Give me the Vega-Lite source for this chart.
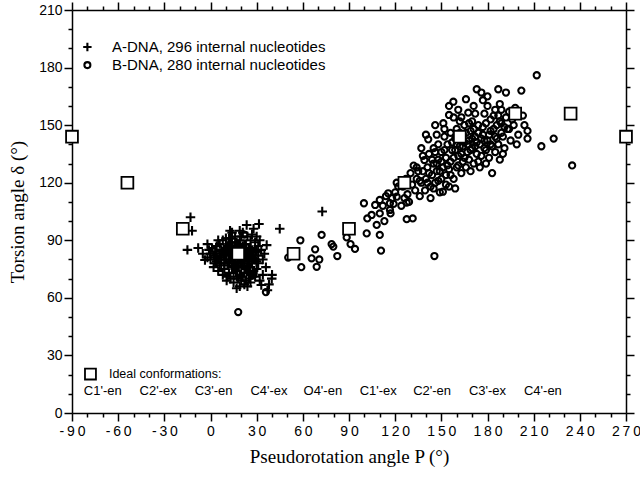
{
  "$schema": "https://vega.github.io/schema/vega-lite/v6.json",
  "width": 554,
  "height": 403,
  "autosize": "none",
  "padding": {"left": 72, "top": 10, "right": 14, "bottom": 67},
  "background": "white",
  "config": {
    "view": {"stroke": null},
    "axis": {
      "domainColor": "black",
      "domainWidth": 1.5,
      "tickColor": "black",
      "tickWidth": 1.5,
      "grid": false,
      "labelFont": "Liberation Sans",
      "labelFontSize": 14,
      "labelColor": "black",
      "titleFont": "Liberation Serif",
      "titleFontSize": 19,
      "titleFontWeight": "normal",
      "titleColor": "black"
    }
  },
  "datasets": {
    "adna": [
      {"p": -13, "d": 102}, {"p": -15, "d": 85}, {"p": -12, "d": 95}, {"p": 45, "d": 96}, {"p": 72.6, "d": 105},
      {"p": 39.8, "d": 70}, {"p": 33, "d": 66.7}, {"p": 37, "d": 64}, {"p": 40, "d": 72}, {"p": 36.5, "d": 87.5},
      {"p": 31.5, "d": 98.5}, {"p": 23.5, "d": 98}, {"p": 12.7, "d": 95}, {"p": -5, "d": 83}, {"p": -3.6, "d": 79.7},
      {"p": 17, "d": 65}, {"p": 10.5, "d": 69}, {"p": 28, "d": 96}, {"p": 20, "d": 92}, {"p": -8, "d": 86},
      {"p": -2, "d": 88}, {"p": 5, "d": 90}, {"p": 3, "d": 84}, {"p": 32, "d": 90}, {"p": 34, "d": 80},
      {"p": 30, "d": 75}, {"p": 25, "d": 70}, {"p": 22, "d": 67}, {"p": 15, "d": 68}, {"p": 8, "d": 72},
      {"p": 2, "d": 76}, {"p": 0, "d": 80}, {"p": -1, "d": 85}, {"p": 4, "d": 87}, {"p": 6, "d": 82},
      {"p": 7, "d": 78}, {"p": 9, "d": 75}, {"p": 10, "d": 80}, {"p": 11, "d": 84}, {"p": 12, "d": 88},
      {"p": 13, "d": 91}, {"p": 14, "d": 86}, {"p": 15, "d": 82}, {"p": 16, "d": 78}, {"p": 17, "d": 74},
      {"p": 18, "d": 70}, {"p": 19, "d": 72}, {"p": 20, "d": 76}, {"p": 21, "d": 80}, {"p": 22, "d": 84},
      {"p": 23, "d": 88}, {"p": 24, "d": 92}, {"p": 25, "d": 86}, {"p": 26, "d": 82}, {"p": 27, "d": 78},
      {"p": 28, "d": 74}, {"p": 29, "d": 80}, {"p": 30, "d": 84}, {"p": 31, "d": 87}, {"p": 26, "d": 90},
      {"p": 24, "d": 76}, {"p": 22, "d": 73}, {"p": 20, "d": 69}, {"p": 18, "d": 88}, {"p": 16, "d": 92},
      {"p": 14, "d": 76}, {"p": 12, "d": 73}, {"p": 10, "d": 86}, {"p": 8, "d": 90}, {"p": 6, "d": 88},
      {"p": 4, "d": 79}, {"p": 2, "d": 82}, {"p": 13, "d": 80}, {"p": 15, "d": 85}, {"p": 17, "d": 83},
      {"p": 19, "d": 86}, {"p": 21, "d": 77}, {"p": 23, "d": 81}, {"p": 25, "d": 79}, {"p": 27, "d": 85},
      {"p": 29, "d": 89}, {"p": 11, "d": 77}, {"p": 9, "d": 82}, {"p": 7, "d": 85}, {"p": 5, "d": 74},
      {"p": 3, "d": 78}, {"p": 1, "d": 86}, {"p": 14, "d": 94}, {"p": 19, "d": 95}, {"p": 27, "d": 93},
      {"p": 33, "d": 85}, {"p": 35, "d": 83}, {"p": 31, "d": 78}, {"p": 29, "d": 71}, {"p": 26, "d": 68},
      {"p": 24, "d": 66}, {"p": 19, "d": 66}, {"p": 13, "d": 70}, {"p": 11, "d": 71}, {"p": 6, "d": 77},
      {"p": 0, "d": 83}, {"p": -2, "d": 81}, {"p": 16, "d": 87}, {"p": 18, "d": 79}, {"p": 20, "d": 82},
      {"p": 22, "d": 78}, {"p": 24, "d": 83}, {"p": 26, "d": 76}, {"p": 28, "d": 84}, {"p": 17, "d": 89},
      {"p": 21, "d": 87}, {"p": 23, "d": 75}, {"p": 15, "d": 73}, {"p": 9, "d": 78}, {"p": 12, "d": 83},
      {"p": 30, "d": 92}, {"p": 8, "d": 84}, {"p": 5, "d": 80}, {"p": 3, "d": 81}, {"p": 36, "d": 76},
      {"p": 38, "d": 67}, {"p": 34, "d": 72}, {"p": 32, "d": 69},
      {"p": 10, "d": 83}, {"p": 12, "d": 79}, {"p": 14, "d": 81}, {"p": 16, "d": 84}, {"p": 18, "d": 82},
      {"p": 20, "d": 86}, {"p": 22, "d": 81}, {"p": 24, "d": 79}, {"p": 26, "d": 86}, {"p": 28, "d": 80},
      {"p": 11, "d": 87}, {"p": 13, "d": 84}, {"p": 15, "d": 78}, {"p": 17, "d": 77}, {"p": 19, "d": 80},
      {"p": 21, "d": 84}, {"p": 23, "d": 85}, {"p": 25, "d": 83}, {"p": 27, "d": 81}, {"p": 9, "d": 80},
      {"p": 7, "d": 81}, {"p": 16, "d": 75}, {"p": 18, "d": 76}, {"p": 20, "d": 79}, {"p": 22, "d": 88},
      {"p": 14, "d": 89}, {"p": 12, "d": 91}, {"p": 25, "d": 74}, {"p": 27, "d": 72}, {"p": 21, "d": 71},
      {"p": 17, "d": 71}, {"p": 23, "d": 69}, {"p": 19, "d": 90}, {"p": 29, "d": 84}, {"p": 31, "d": 82},
      {"p": 10, "d": 91}, {"p": 21, "d": 94}, {"p": 26, "d": 72}, {"p": 30, "d": 79}, {"p": 4, "d": 83}
    ],
    "bdna": [
      {"p": 18, "d": 52.6}, {"p": 36, "d": 63}, {"p": 22, "d": 93}, {"p": 28, "d": 72}, {"p": 145.5, "d": 81.8},
      {"p": 50.5, "d": 81}, {"p": 59, "d": 76}, {"p": 58.4, "d": 90}, {"p": 68, "d": 85.3}, {"p": 69, "d": 76.2},
      {"p": 70.7, "d": 80}, {"p": 72.2, "d": 92.8}, {"p": 65.7, "d": 80.6}, {"p": 78.7, "d": 88}, {"p": 79.8, "d": 86.7},
      {"p": 82.4, "d": 81.8}, {"p": 88.5, "d": 91.5}, {"p": 91, "d": 88}, {"p": 93.9, "d": 85.5}, {"p": 101.5, "d": 93.6},
      {"p": 101.9, "d": 101.4}, {"p": 110, "d": 92.8}, {"p": 110.8, "d": 84.6}, {"p": 99.7, "d": 109.3}, {"p": 104.7, "d": 103.2},
      {"p": 108, "d": 98}, {"p": 107, "d": 108.4}, {"p": 110, "d": 111}, {"p": 115.5, "d": 114.5}, {"p": 116.6, "d": 109.3},
      {"p": 116.6, "d": 105.8}, {"p": 121, "d": 112.7}, {"p": 127.5, "d": 101}, {"p": 131.4, "d": 101.4}, {"p": 127.5, "d": 109.6},
      {"p": 112, "d": 108}, {"p": 114, "d": 113}, {"p": 118, "d": 112}, {"p": 120, "d": 115}, {"p": 122, "d": 118},
      {"p": 119, "d": 109}, {"p": 117, "d": 104}, {"p": 113, "d": 100}, {"p": 110, "d": 104}, {"p": 121, "d": 120},
      {"p": 125, "d": 118}, {"p": 127, "d": 122}, {"p": 128, "d": 114}, {"p": 130, "d": 125}, {"p": 131, "d": 119},
      {"p": 132, "d": 128.9}, {"p": 133, "d": 116}, {"p": 134, "d": 122}, {"p": 135, "d": 126}, {"p": 129, "d": 110},
      {"p": 126, "d": 112}, {"p": 124, "d": 108},
      {"p": 136, "d": 113}, {"p": 137, "d": 120}, {"p": 138, "d": 126}, {"p": 139, "d": 131.8}, {"p": 139.4, "d": 116},
      {"p": 140, "d": 122}, {"p": 141, "d": 128}, {"p": 141.5, "d": 142.6}, {"p": 142, "d": 135}, {"p": 143, "d": 118},
      {"p": 144, "d": 124}, {"p": 145, "d": 130}, {"p": 145, "d": 138}, {"p": 143, "d": 112}, {"p": 138, "d": 134},
      {"p": 140, "d": 145},
      {"p": 146, "d": 120}, {"p": 147, "d": 126}, {"p": 148, "d": 132}, {"p": 148, "d": 140}, {"p": 149, "d": 115},
      {"p": 150, "d": 122}, {"p": 150, "d": 136}, {"p": 151, "d": 128}, {"p": 151.3, "d": 151}, {"p": 151, "d": 115.3},
      {"p": 152, "d": 144}, {"p": 153, "d": 124}, {"p": 153, "d": 133}, {"p": 154, "d": 140}, {"p": 155, "d": 155.3},
      {"p": 155, "d": 118}, {"p": 155, "d": 127}, {"p": 152, "d": 148}, {"p": 147, "d": 145},
      {"p": 156, "d": 131}, {"p": 157, "d": 137}, {"p": 157.8, "d": 162.2}, {"p": 158, "d": 122}, {"p": 159, "d": 117},
      {"p": 159, "d": 143}, {"p": 160, "d": 128}, {"p": 160, "d": 148}, {"p": 161, "d": 134}, {"p": 162, "d": 139},
      {"p": 162, "d": 152}, {"p": 163, "d": 154.1}, {"p": 163, "d": 125}, {"p": 164, "d": 131}, {"p": 164, "d": 145},
      {"p": 165, "d": 141}, {"p": 165, "d": 150}, {"p": 161, "d": 158}, {"p": 158, "d": 154}, {"p": 156, "d": 146},
      {"p": 166, "d": 163.5}, {"p": 166, "d": 128}, {"p": 167, "d": 136}, {"p": 167.5, "d": 156.5}, {"p": 168, "d": 142},
      {"p": 168, "d": 132}, {"p": 169, "d": 147}, {"p": 170, "d": 138}, {"p": 170, "d": 152}, {"p": 171, "d": 160},
      {"p": 171, "d": 130}, {"p": 172, "d": 144}, {"p": 173, "d": 168.7}, {"p": 173, "d": 135}, {"p": 174, "d": 150},
      {"p": 175, "d": 140}, {"p": 175, "d": 128}, {"p": 172, "d": 156}, {"p": 169, "d": 126}, {"p": 174, "d": 146},
      {"p": 176, "d": 134}, {"p": 177, "d": 163}, {"p": 177, "d": 145}, {"p": 178, "d": 138}, {"p": 179, "d": 151},
      {"p": 180, "d": 165}, {"p": 180, "d": 160}, {"p": 180, "d": 142}, {"p": 181, "d": 133}, {"p": 182, "d": 147},
      {"p": 183, "d": 125}, {"p": 183, "d": 139}, {"p": 184, "d": 155}, {"p": 185, "d": 158}, {"p": 185, "d": 144},
      {"p": 185, "d": 136}, {"p": 179, "d": 130}, {"p": 182, "d": 153}, {"p": 178, "d": 156},
      {"p": 186, "d": 150}, {"p": 187, "d": 168.7}, {"p": 187, "d": 140}, {"p": 188, "d": 161}, {"p": 188, "d": 152},
      {"p": 189, "d": 158}, {"p": 189, "d": 146}, {"p": 190, "d": 144}, {"p": 191, "d": 138}, {"p": 192, "d": 154},
      {"p": 192, "d": 167}, {"p": 193, "d": 148}, {"p": 194, "d": 148}, {"p": 195, "d": 142}, {"p": 190, "d": 135},
      {"p": 188, "d": 132}, {"p": 194, "d": 157},
      {"p": 197, "d": 150}, {"p": 200, "d": 145}, {"p": 202, "d": 168}, {"p": 204, "d": 150}, {"p": 206, "d": 147},
      {"p": 206, "d": 143}, {"p": 199, "d": 140}, {"p": 203, "d": 155}, {"p": 212, "d": 176}, {"p": 215, "d": 139},
      {"p": 223, "d": 143}, {"p": 235, "d": 129},
      {"p": 142, "d": 125}, {"p": 144, "d": 132}, {"p": 146, "d": 136}, {"p": 147, "d": 130}, {"p": 149, "d": 126},
      {"p": 150, "d": 131}, {"p": 152, "d": 137}, {"p": 154, "d": 129}, {"p": 156, "d": 124}, {"p": 157, "d": 141},
      {"p": 158, "d": 133}, {"p": 159, "d": 137}, {"p": 160, "d": 140}, {"p": 161, "d": 129}, {"p": 162, "d": 146},
      {"p": 163, "d": 135}, {"p": 164, "d": 139}, {"p": 165, "d": 133}, {"p": 166, "d": 146}, {"p": 167, "d": 140},
      {"p": 168, "d": 151}, {"p": 169, "d": 137}, {"p": 170, "d": 143}, {"p": 171, "d": 148}, {"p": 172, "d": 139},
      {"p": 173, "d": 141}, {"p": 174, "d": 131}, {"p": 176, "d": 143}, {"p": 177, "d": 149}, {"p": 178, "d": 142},
      {"p": 179, "d": 137}, {"p": 181, "d": 145}, {"p": 182, "d": 140}, {"p": 184, "d": 148}, {"p": 186, "d": 143},
      {"p": 187, "d": 155}, {"p": 189, "d": 151}, {"p": 191, "d": 149}, {"p": 196, "d": 153}, {"p": 198, "d": 159},
      {"p": 141, "d": 120}, {"p": 145, "d": 117}, {"p": 148, "d": 121}, {"p": 153, "d": 119}, {"p": 136, "d": 121},
      {"p": 134, "d": 128}, {"p": 137, "d": 138}, {"p": 146, "d": 150}, {"p": 155, "d": 160}, {"p": 176, "d": 167}
    ],
    "ideal": [
      {"p": -90, "d": 144}, {"p": -54, "d": 120}, {"p": -18, "d": 96}, {"p": 18, "d": 83}, {"p": 54, "d": 83},
      {"p": 90, "d": 96}, {"p": 126, "d": 120}, {"p": 162, "d": 144}, {"p": 198, "d": 156}, {"p": 234, "d": 156},
      {"p": 270, "d": 144}
    ],
    "confs": [
      {"p": -70, "d": 11.5, "t": "C1'-en"}, {"p": -34, "d": 11.5, "t": "C2'-ex"}, {"p": 2, "d": 11.5, "t": "C3'-en"},
      {"p": 38, "d": 11.5, "t": "C4'-ex"}, {"p": 73, "d": 11.5, "t": "O4'-en"}, {"p": 109, "d": 11.5, "t": "C1'-ex"},
      {"p": 144, "d": 11.5, "t": "C2'-en"}, {"p": 180, "d": 11.5, "t": "C3'-ex"}, {"p": 216, "d": 11.5, "t": "C4'-en"}
    ],
    "legendText": [
      {"p": -64, "d": 190.7, "t": "A-DNA, 296 internal nucleotides"},
      {"p": -64, "d": 181.3, "t": "B-DNA, 280 internal nucleotides"}
    ]
  },
  "resolve": {"axis": {"x": "independent", "y": "independent"}},
  "layer": [
    {
      "data": {"name": "bdna"},
      "mark": {"type": "point", "shape": "circle", "filled": false, "stroke": "black", "strokeWidth": 2.1, "size": 38, "opacity": 1, "clip": false},
      "encoding": {
        "x": {"field": "p", "type": "quantitative", "scale": {"domain": [-90, 270], "nice": false, "zero": false},
          "axis": {"orient": "bottom", "values": [-90, -60, -30, 0, 30, 60, 90, 120, 150, 180, 210, 240, 270], "tickSize": 8,
            "labelExpr": "join(split(toString(datum.value), ''), '\u2009')", "labelPadding": 3, "labelFlush": false,
            "title": "Pseudorotation angle P (°)", "titlePadding": 9}},
        "y": {"field": "d", "type": "quantitative", "scale": {"domain": [0, 210], "nice": false, "zero": false},
          "axis": {"orient": "left", "values": [0, 30, 60, 90, 120, 150, 180, 210], "tickSize": 8, "labelPadding": 2,
            "labelFlush": false, "title": "Torsion angle δ (°)", "titlePadding": 11}}
      }
    },
    {
      "data": {"name": "adna"},
      "mark": {"type": "point", "shape": "M-1,0H1M0,-1V1", "filled": false, "stroke": "black", "strokeWidth": 2.1, "size": 90, "opacity": 1, "clip": false},
      "encoding": {
        "x": {"field": "p", "type": "quantitative",
          "axis": {"orient": "bottom", "values": [-80, -70, -50, -40, -20, -10, 10, 20, 40, 50, 70, 80, 100, 110, 130, 140, 160, 170, 190, 200, 220, 230, 250, 260], "tickSize": 4, "labels": false, "domain": false, "title": null}},
        "y": {"field": "d", "type": "quantitative",
          "axis": {"orient": "left", "values": [10, 20, 40, 50, 70, 80, 100, 110, 130, 140, 160, 170, 190, 200], "tickSize": 4, "labels": false, "domain": false, "title": null}}
      }
    },
    {
      "data": {"name": "ideal"},
      "mark": {"type": "point", "shape": "square", "filled": true, "fill": "white", "stroke": "black", "strokeWidth": 1.8, "size": 140, "opacity": 1, "clip": false},
      "encoding": {
        "x": {"field": "p", "type": "quantitative",
          "axis": {"orient": "top", "values": [-90, -60, -30, 0, 30, 60, 90, 120, 150, 180, 210, 240, 270], "tickSize": 8, "labels": false, "title": null}},
        "y": {"field": "d", "type": "quantitative",
          "axis": {"orient": "right", "values": [0, 30, 60, 90, 120, 150, 180, 210], "tickSize": 8, "labels": false, "title": null}}
      }
    },
    {
      "data": {"name": "confs"},
      "mark": {"type": "text", "font": "Liberation Sans", "fontSize": 13, "align": "center", "baseline": "middle", "color": "black"},
      "encoding": {
        "x": {"field": "p", "type": "quantitative",
          "axis": {"orient": "top", "values": [-80, -70, -50, -40, -20, -10, 10, 20, 40, 50, 70, 80, 100, 110, 130, 140, 160, 170, 190, 200, 220, 230, 250, 260], "tickSize": 4, "labels": false, "domain": false, "title": null}},
        "y": {"field": "d", "type": "quantitative",
          "axis": {"orient": "right", "values": [10, 20, 40, 50, 70, 80, 100, 110, 130, 140, 160, 170, 190, 200], "tickSize": 4, "labels": false, "domain": false, "title": null}},
        "text": {"field": "t"}
      }
    },
    {
      "data": {"values": [{"p": -80, "d": 190.7}]},
      "mark": {"type": "point", "shape": "M-1,0H1M0,-1V1", "filled": false, "stroke": "black", "strokeWidth": 2.1, "size": 70, "opacity": 1},
      "encoding": {
        "x": {"field": "p", "type": "quantitative", "axis": null},
        "y": {"field": "d", "type": "quantitative", "axis": null}
      }
    },
    {
      "data": {"values": [{"p": -80, "d": 181.3}]},
      "mark": {"type": "point", "shape": "circle", "filled": false, "stroke": "black", "strokeWidth": 2.1, "size": 36, "opacity": 1},
      "encoding": {
        "x": {"field": "p", "type": "quantitative", "axis": null},
        "y": {"field": "d", "type": "quantitative", "axis": null}
      }
    },
    {
      "data": {"values": [{"p": -78, "d": 20.3}]},
      "mark": {"type": "point", "shape": "square", "filled": true, "fill": "white", "stroke": "black", "strokeWidth": 1.8, "size": 120, "opacity": 1},
      "encoding": {
        "x": {"field": "p", "type": "quantitative", "axis": null},
        "y": {"field": "d", "type": "quantitative", "axis": null}
      }
    },
    {
      "data": {"values": [{"p": -66, "d": 20.3, "t": "Ideal conformations:"}]},
      "mark": {"type": "text", "font": "Liberation Sans", "fontSize": 12.5, "align": "left", "baseline": "middle", "color": "black"},
      "encoding": {
        "x": {"field": "p", "type": "quantitative", "axis": null},
        "y": {"field": "d", "type": "quantitative", "axis": null},
        "text": {"field": "t"}
      }
    },
    {
      "data": {"name": "legendText"},
      "mark": {"type": "text", "font": "Liberation Sans", "fontSize": 15, "align": "left", "baseline": "middle", "color": "black"},
      "encoding": {
        "x": {"field": "p", "type": "quantitative", "axis": null},
        "y": {"field": "d", "type": "quantitative", "axis": null},
        "text": {"field": "t"}
      }
    }
  ]
}
